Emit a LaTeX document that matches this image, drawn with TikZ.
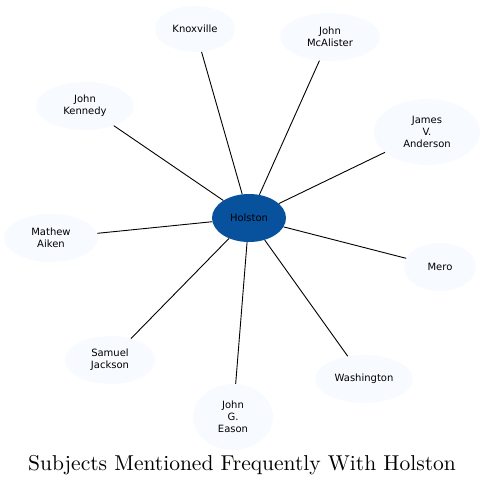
\documentclass[tikz,border=0pt]{standalone}
\usepackage{fontspec}
\newfontfamily\nodefont{DejaVu Sans}
\newfontfamily\titlefont{lmroman10-regular.otf}
\usetikzlibrary{shapes.geometric}
\definecolor{hub}{HTML}{08519C}
\definecolor{leaf}{HTML}{F7FBFF}
\tikzset{
  leafnode/.style={ellipse, fill=leaf, inner sep=0pt, align=center, font=\nodefont\fontsize{10}{12}\selectfont},
  hubnode/.style={ellipse, fill=hub, inner sep=0pt, align=center, font=\nodefont\fontsize{10}{12}\selectfont},
  link/.style={draw=black, line width=0.9pt}
}
\begin{document}
\begin{tikzpicture}[x=1pt,y=-1pt]
\useasboundingbox (0,0) rectangle (485,486);
\node[hubnode, minimum width=74pt, minimum height=48pt] (hol) at (249,218) {Holston};
\node[leafnode, minimum width=80pt, minimum height=46pt] (kno) at (195,29) {Knoxville};
\node[leafnode, minimum width=100pt, minimum height=48pt] (mca) at (330,37) {John\\McAlister};
\node[leafnode, minimum width=106pt, minimum height=66pt] (and) at (427,132) {James\\V.\\Anderson};
\node[leafnode, minimum width=98pt, minimum height=48pt] (ken) at (85,106) {John\\Kennedy};
\node[leafnode, minimum width=94pt, minimum height=48pt] (aik) at (51,238) {Mathew\\Aiken};
\node[leafnode, minimum width=72pt, minimum height=48pt] (mer) at (440,267) {Mero};
\node[leafnode, minimum width=90pt, minimum height=48pt] (jac) at (110,360) {Samuel\\Jackson};
\node[leafnode, minimum width=80pt, minimum height=66pt] (eas) at (233,417) {John\\G.\\Eason};
\node[leafnode, minimum width=98pt, minimum height=48pt] (was) at (364,379) {Washington};
\foreach \n in {kno,mca,and,ken,aik,mer,jac,eas,was} \draw[link] (hol) -- (\n);
\node[font=\titlefont\fontsize{21.5}{25}\selectfont] (title) at (242,465) {Subjects Mentioned Frequently With Holston};
\end{tikzpicture}
\end{document}
